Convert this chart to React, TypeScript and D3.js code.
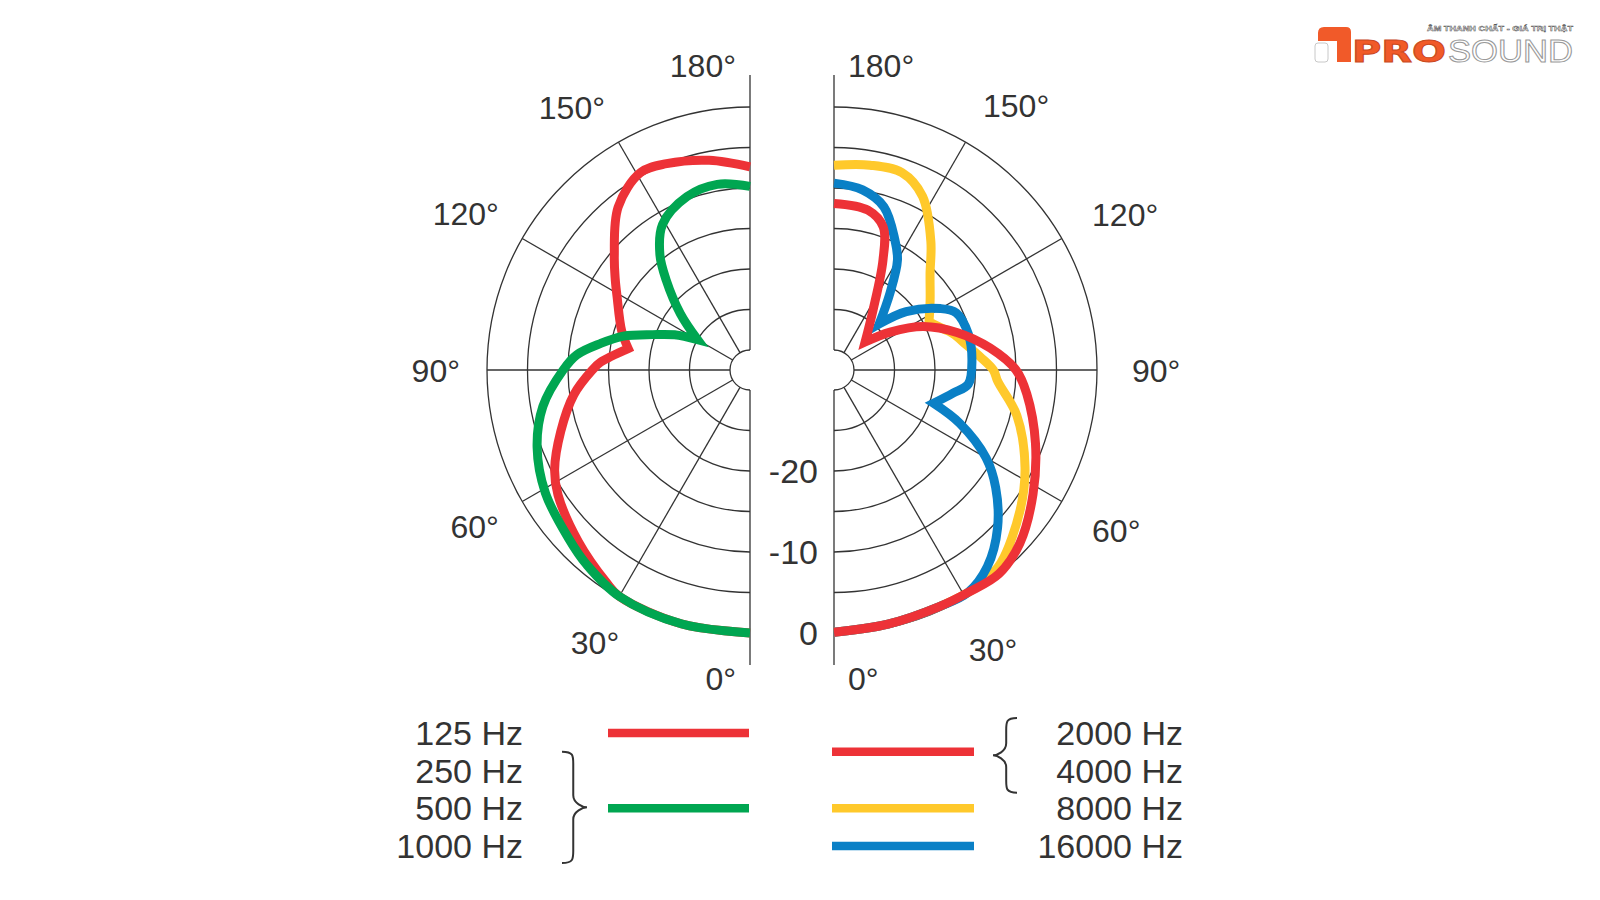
import { useEffect, useRef } from 'react';
import * as d3 from 'd3';

// [angle in degrees, level in dB]
type Pt = [number, number];

const angleTicks = [0, 30, 60, 90, 120, 150, 180];
const ringLevels = [-30, -25, -20, -15, -10, -5, 0];
const levelLabels = [-20, -10, 0];

// left half
const red125: Pt[] = [
  [0, 0], [15, 0], [30, -0.2], [34, -0.8], [45, -2.5], [57, -4.2], [63, -5.4], [72, -7.9],
  [82, -10.5], [90, -13.0], [93, -14.0], [100, -17.2], [107, -15.9], [119, -13.7],
  [124, -12.4], [130, -10.6], [141, -6.6], [151, -4.6], [158, -5.0], [169, -6.1], [180, -7.4],
];
const red125Cusps = [100];

const green250to1000: Pt[] = [
  [0, 0], [15, 0], [30, -0.2], [40, -1.1], [47, -1.9], [59, -3.0], [70, -4.5], [80, -6.5],
  [90, -9.4], [95, -11.0], [100, -13.7], [105, -16.3], [110, -19.7], [115, -22.2], [120, -25.0],
  [129, -21.4], [137, -17.3], [142, -14.4], [149, -11.5], [160, -9.7], [170, -9.2], [180, -9.8],
];
const greenCusps = [120];

// right half
const red2k4k: Pt[] = [
  [0, -0.1], [12, -0.4], [24, -0.5], [31, -0.4], [39, -0.1], [47, -1.1], [58, -3.5], [70, -6.0],
  [83, -8.5], [90, -10.0], [98, -13.0], [107, -16.6], [116, -20.2], [124, -24.1], [132, -27.3],
  [147, -23.6], [156, -17.6], [161, -13.8], [168, -12.3], [180, -11.9],
];
const red2k4kCusps = [132];

const yellow8k: Pt[] = [
  [0, -0.1], [12, -0.4], [24, -0.5], [31, -0.4], [36, -0.5], [41, -1.0], [53, -3.7], [63, -6.0],
  [76, -9.2], [86, -12.2], [90, -12.8], [95, -14.3], [101, -15.9], [107, -17.1], [113, -18.6],
  [117, -19.3], [126, -17.8], [135, -15.7], [143, -12.6], [153, -8.4], [161, -6.7], [170, -6.8],
  [180, -7.2],
];
const yellowCusps = [117];

const blue16k: Pt[] = [
  [0, -0.1], [12, -0.4], [24, -0.5], [31, -0.4], [38, -1.7], [46, -4.4], [54, -7.8], [60, -10.8],
  [67, -15.6], [71.5, -19.5], [79, -17.5], [84, -15.8], [94, -15.4], [105, -15.3], [115, -15.8],
  [120, -17.3], [129, -21.0], [135.5, -24.5], [144, -20.7], [150, -16.8], [155, -14.7],
  [163, -11.4], [171, -9.95], [180, -9.4],
];
const blueCusps = [71.5, 135.5];

const leftLegendLabels = ['125 Hz', '250 Hz', '500 Hz', '1000 Hz'];
const rightLegendLabels = ['2000 Hz', '4000 Hz', '8000 Hz', '16000 Hz'];

const RED = '#ED3237';
const GREEN = '#00A651';
const YELLOW = '#FFC92B';
const BLUE = '#0A80C6';
const INK = '#333';
const FONT = '"Liberation Sans", Arial, Helvetica, sans-serif';

interface Series {
  pts: Pt[];
  cusps: number[];
  color: string;
  row: number;
}

// repeat the cusp points so the catmull-rom curve keeps a sharp tip there
const withCusps = (pts: Pt[], cusps: number[]) =>
  pts.flatMap(p => (cusps.includes(p[0]) ? [p, p] : [p]));

const App = () => {
  const svgRef = useRef<SVGSVGElement>(null);

  useEffect(() => {
    const svg = d3.select(svgRef.current);
    svg.selectAll('*').remove();

    const cy = 370;
    const axisExt = 295;
    const r = d3.scaleLinear().domain([-30, 0]).range([20, 263]);
    const rad = (deg: number) => (deg * Math.PI) / 180;

    const leftSeries: Series[] = [
      { pts: red125, cusps: red125Cusps, color: RED, row: 0 },
      { pts: green250to1000, cusps: greenCusps, color: GREEN, row: 2 },
    ];
    const rightSeries: Series[] = [
      { pts: yellow8k, cusps: yellowCusps, color: YELLOW, row: 2 },
      { pts: blue16k, cusps: blueCusps, color: BLUE, row: 3 },
      { pts: red2k4k, cusps: red2k4kCusps, color: RED, row: 0.5 },
    ];

    const drawSide = (cx: number, s: number, series: Series[], labelDist: number) => {
      const g = svg.append('g').attr('transform', `translate(${cx},${cy})`);
      const grid = g.append('g').attr('fill', 'none').attr('stroke', INK).attr('stroke-width', 1.3);

      // rings, every 5 dB
      ringLevels.forEach(lv => {
        const rr = r(lv);
        const p = d3.path();
        p.moveTo(0, -rr);
        p.arc(0, 0, rr, -Math.PI / 2, Math.PI / 2, s < 0);
        grid.append('path').attr('d', p.toString());
      });

      // spokes
      angleTicks.filter(a => a > 0 && a < 180).forEach(a => {
        grid.append('line')
          .attr('x1', s * r(-30) * Math.sin(rad(a)))
          .attr('y1', r(-30) * Math.cos(rad(a)))
          .attr('x2', s * r(0) * Math.sin(rad(a)))
          .attr('y2', r(0) * Math.cos(rad(a)));
      });

      // vertical axis, broken by the centre hole
      grid.append('line').attr('x1', 0).attr('x2', 0).attr('y1', -axisExt).attr('y2', -r(-30));
      grid.append('line').attr('x1', 0).attr('x2', 0).attr('y1', r(-30)).attr('y2', axisExt);

      // angle labels
      angleTicks.forEach(a => {
        let x: number;
        let y: number;
        let anchor = s < 0 ? 'end' : 'start';
        const px = labelDist * Math.sin(rad(a));
        const py = labelDist * Math.cos(rad(a));
        if (a === 180) {
          x = s * 14;
          y = -axisExt + 2;
        } else if (a === 0) {
          x = s * 14;
          y = axisExt + 25;
        } else if (a < 45) {
          anchor = 'middle';
          x = s * (px + 10);
          y = py + 33;
        } else {
          x = s * px;
          y = a > 90 ? py + (s > 0 ? 5 : 0) : a === 90 ? py + 11.5 : py + 23;
        }
        g.append('text')
          .attr('x', x)
          .attr('y', y)
          .attr('text-anchor', anchor)
          .attr('font-family', FONT)
          .attr('font-size', 32)
          .attr('fill', INK)
          .text(`${a}°`);
      });

      // response curves
      const line = d3.lineRadial<Pt>()
        .angle(d => Math.PI - s * rad(d[0]))
        .radius(d => r(d[1]))
        .curve(d3.curveCatmullRom.alpha(0.5));

      series.forEach(se => {
        g.append('path')
          .attr('d', line(withCusps(se.pts, se.cusps)) ?? '')
          .attr('fill', 'none')
          .attr('stroke', se.color)
          .attr('stroke-width', 9)
          .attr('stroke-linejoin', 'miter')
          .attr('stroke-miterlimit', 3);
      });
    };

    const cxL = 750;
    const cxR = 834;
    drawSide(cxL, -1, leftSeries, 290);
    drawSide(cxR, 1, rightSeries, 298);

    // level labels between the halves
    levelLabels.forEach(lv => {
      svg.append('text')
        .attr('x', 818)
        .attr('y', cy + r(lv) + 12)
        .attr('text-anchor', 'end')
        .attr('font-family', FONT)
        .attr('font-size', 34)
        .attr('fill', INK)
        .text(lv);
    });

    // legend
    const rowY = d3.scaleLinear().domain([0, 3]).range([745, 858]);
    const legendText = (labels: string[], x: number) => {
      labels.forEach((t, i) => {
        svg.append('text')
          .attr('x', x)
          .attr('y', rowY(i))
          .attr('text-anchor', 'end')
          .attr('font-family', FONT)
          .attr('font-size', 34)
          .attr('fill', INK)
          .text(t);
      });
    };
    legendText(leftLegendLabels, 523);
    legendText(rightLegendLabels, 1183);

    const swatches = (series: Series[], x0: number, x1: number) => {
      series.forEach(se => {
        svg.append('line')
          .attr('x1', x0)
          .attr('x2', x1)
          .attr('y1', rowY(se.row) - 12)
          .attr('y2', rowY(se.row) - 12)
          .attr('stroke', se.color)
          .attr('stroke-width', 8.5);
      });
    };
    swatches(leftSeries, 608, 749);
    swatches(rightSeries, 832, 974);

    const brace = (x: number, y1: number, y2: number, w: number, dir: number) => {
      const ym = (y1 + y2) / 2;
      const xm = x + dir * w * 0.45;
      const xt = x + dir * w;
      return `M${x},${y1} C${xm},${y1} ${xm},${y1 + 4} ${xm},${y1 + 12} L${xm},${ym - 12} C${xm},${ym - 4} ${xt - dir * 4},${ym} ${xt},${ym} C${xt - dir * 4},${ym} ${xm},${ym + 4} ${xm},${ym + 12} L${xm},${y2 - 12} C${xm},${y2 - 4} ${xm},${y2} ${x},${y2}`;
    };
    svg.append('path')
      .attr('d', brace(562, rowY(1) - 31, rowY(3) + 5, 25, 1))
      .attr('fill', 'none')
      .attr('stroke', INK)
      .attr('stroke-width', 2);
    svg.append('path')
      .attr('d', brace(1017, rowY(0) - 27, rowY(1) + 10, 24, -1))
      .attr('fill', 'none')
      .attr('stroke', INK)
      .attr('stroke-width', 2);

    // brand mark, top right
    const logo = svg.append('g');
    logo.append('rect')
      .attr('x', 1315).attr('y', 43).attr('width', 13).attr('height', 19).attr('rx', 3)
      .attr('fill', '#fff').attr('stroke', '#c8c8c8');
    logo.append('path')
      .attr('d', 'M1318,41 V33 Q1318,27 1324,27 H1346 Q1351,27 1351,32 V62 H1337 V41 Z')
      .attr('fill', '#F15A29');
    logo.append('text')
      .attr('x', 1352).attr('y', 62)
      .attr('font-family', '"DejaVu Sans", sans-serif')
      .attr('font-weight', 900)
      .attr('font-size', 30)
      .attr('textLength', 94)
      .attr('lengthAdjust', 'spacingAndGlyphs')
      .attr('fill', '#F15A29')
      .attr('stroke', '#c94a1f')
      .attr('stroke-width', 1)
      .text('PRO');
    logo.append('text')
      .attr('x', 1448).attr('y', 62)
      .attr('font-family', FONT)
      .attr('font-size', 31)
      .attr('textLength', 125)
      .attr('lengthAdjust', 'spacingAndGlyphs')
      .attr('fill', '#fff')
      .attr('stroke', '#999')
      .attr('stroke-width', 1)
      .text('SOUND');
    logo.append('text')
      .attr('x', 1427).attr('y', 31)
      .attr('font-family', FONT)
      .attr('font-weight', 'bold')
      .attr('font-size', 8)
      .attr('textLength', 146)
      .attr('lengthAdjust', 'spacingAndGlyphs')
      .attr('fill', '#fff')
      .attr('stroke', '#555')
      .attr('stroke-width', 0.5)
      .text('ÂM THANH CHẤT - GIÁ TRỊ THẬT');
  }, []);

  return (
    <svg
      ref={svgRef}
      width={1600}
      height={900}
      style={{ position: 'absolute', left: 0, top: 0, background: '#fff', display: 'block' }}
    />
  );
};

export default App;
